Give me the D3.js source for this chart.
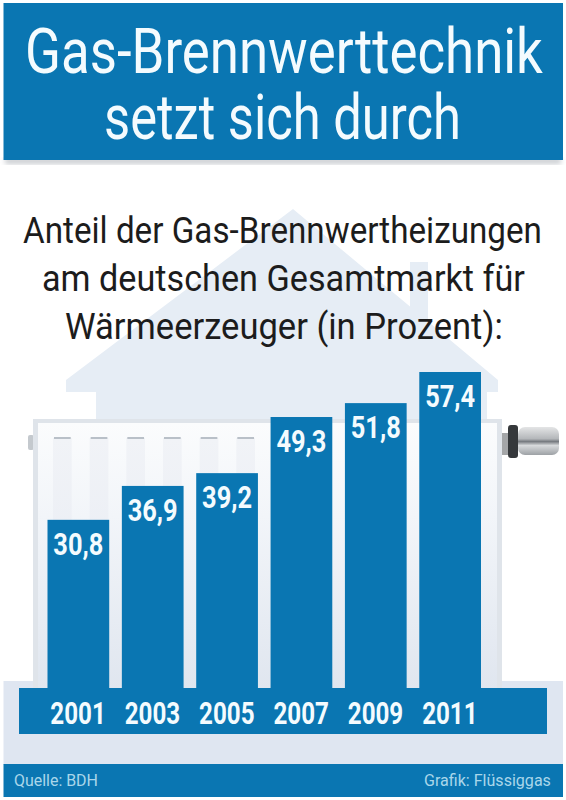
<!DOCTYPE html>
<html><head><meta charset="utf-8">
<script src="https://cdn.jsdelivr.net/npm/d3@7"></script>
<style>html,body{margin:0;padding:0;background:#fff}svg{display:block}text{font-family:"Roboto","Liberation Sans",sans-serif}</style>
</head><body><svg id="c" width="566" height="800"></svg>
<script>
const years = ["2001","2003","2005","2007","2009","2011"];
const shares = [30.8,36.9,39.2,49.3,51.8,57.4];
const valueLabels = ["30,8","36,9","39,2","49,3","51,8","57,4"];
const titleLines = ["Gas-Brennwerttechnik","setzt sich durch"];
const subtitleLines = ["Anteil der Gas-Brennwertheizungen","am deutschen Gesamtmarkt für","Wärmeerzeuger (in Prozent):"];
const BLUE="#0a76b2", PALE="#e6edf5";
const titleBoxes=[[25,73,518],[104,139,357]];
const subtitleBoxes=[[23,243,519],[42,291,483],[65,339,438]];
const svg=d3.select("#c");
const defs=svg.append("defs");
function grad(id,stops){const g=defs.append("linearGradient").attr("id",id).attr("x1",0).attr("x2",0).attr("y1",0).attr("y2",1);
 stops.forEach(d=>g.append("stop").attr("offset",d[0]).attr("stop-color",d[1]));}
grad("th",[["0","#e4e5e6"],["0.42","#b4b7ba"],["0.52","#777b80"],["0.66","#d8dadc"],["1","#9da1a5"]]);
grad("body",[["0","#fbfcfd"],["0.35","#f2f5f9"],["1","#e0e6ef"]]);
grad("ribf",[["0","#f1f3f7"],["0.4","#eceff5"],["1","#e0e6ef"]]);
defs.append("filter").attr("id","soft").append("feGaussianBlur").attr("stdDeviation",2.5);
// Squeeze a text horizontally to a given width, at a given left edge and baseline
function fit(sel,fx,fy,fw){sel.attr("transform",function(d,i){
  const s=fw(d,i)/this.getComputedTextLength();
  return `translate(${fx(d,i)},${fy(d,i)}) scale(${s},1)`;});}

// Header
svg.append("rect").attr("x",5).attr("y",158).attr("width",556).attr("height",6).attr("fill","#c9ccd0").attr("filter","url(#soft)");
svg.append("rect").attr("x",3.5).attr("y",3).attr("width",559.5).attr("height",157).attr("fill",BLUE);
svg.selectAll(".t").data(titleLines).join("text").attr("fill","#f4fbfe").attr("font-size",63).text(d=>d)
 .call(fit,(d,i)=>titleBoxes[i][0],(d,i)=>titleBoxes[i][1],(d,i)=>titleBoxes[i][2]);

// House
svg.append("path").attr("d","M293 209 L410 306.6 L410 262 L428 262 L428 321.6 L498 380 L498 392 L487 392 L487 422 L96 422 L96 392 L66 392 L66 380 Z").attr("fill",PALE);
// Base
svg.append("rect").attr("x",3.5).attr("y",681).attr("width",559.5).attr("height",84).attr("fill","#dfe6f1");
// Radiator
svg.append("rect").attr("x",28).attr("y",435).attr("width",6).attr("height",15).attr("rx",2).attr("fill","#c4c9ce");
svg.append("rect").attr("x",33).attr("y",419).attr("width",469).attr("height",270).attr("fill","#dfe4ea");
svg.append("rect").attr("x",38).attr("y",423).attr("width",459).attr("height",266).attr("fill","url(#body)");
const rib=d3.scaleBand().domain(d3.range(12)).range([53,475]).paddingInner(0.49).paddingOuter(0);
svg.selectAll(".rib").data(d3.range(12)).join("rect").attr("x",d=>rib(d)).attr("y",438).attr("width",rib.bandwidth()).attr("height",251).attr("fill","url(#ribf)");
svg.selectAll(".rib2").data(d3.range(12)).join("rect").attr("x",d=>rib(d)+1).attr("y",437).attr("width",rib.bandwidth()-2).attr("height",2).attr("fill","#b9c0c8");
// Thermostat
svg.append("rect").attr("x",502).attr("y",433).attr("width",7).attr("height",22).attr("fill","#a4a6a8");
svg.append("rect").attr("x",508).attr("y",425).attr("width",10).attr("height",33).attr("rx",3).attr("fill","#35383b");
svg.append("rect").attr("x",518).attr("y",427).attr("width",41).attr("height",28).attr("rx",7).attr("fill","url(#th)");

// Subtitle
svg.selectAll(".s").data(subtitleLines).join("text").attr("fill","#1c1c1c").attr("font-size",37).text(d=>d)
 .call(fit,(d,i)=>subtitleBoxes[i][0],(d,i)=>subtitleBoxes[i][1],(d,i)=>subtitleBoxes[i][2]);

// Chart
const x=d3.scaleBand().domain(years).range([47.5,481]).paddingInner(0.17).paddingOuter(0);
const y=d3.scaleLinear().domain([0,57.4]).range([691,372]);
svg.selectAll(".bar").data(shares).join("rect").attr("x",(d,i)=>x(years[i])).attr("y",d=>y(d)).attr("width",x.bandwidth()).attr("height",d=>y(0)-y(d)).attr("fill",BLUE);
svg.selectAll(".val").data(shares).join("text").attr("fill","#f4fbfe").attr("font-weight",700).attr("font-size",32).text((d,i)=>valueLabels[i])
 .call(fit,(d,i)=>x(years[i])+x.bandwidth()/2-25,d=>y(d)+35,()=>50);
// Axis band
svg.append("rect").attr("x",19).attr("y",688).attr("width",528).attr("height",46).attr("fill",BLUE);
svg.selectAll(".yr").data(years).join("text").attr("fill","#f4fbfe").attr("font-weight",700).attr("font-size",31).text(d=>d)
 .call(fit,d=>x(d)+x.bandwidth()/2-28,()=>724,()=>55.5);
// Footer
svg.append("rect").attr("x",3.5).attr("y",764).attr("width",559.5).attr("height",33).attr("fill",BLUE);
svg.append("text").datum("Quelle: BDH").attr("fill","#a9d6ea").attr("font-size",17).text(d=>d).call(fit,()=>14,()=>786,()=>84);
svg.append("text").datum("Grafik: Flüssiggas").attr("fill","#a9d6ea").attr("font-size",17).text(d=>d).call(fit,()=>424,()=>786,()=>127);
</script></body></html>
